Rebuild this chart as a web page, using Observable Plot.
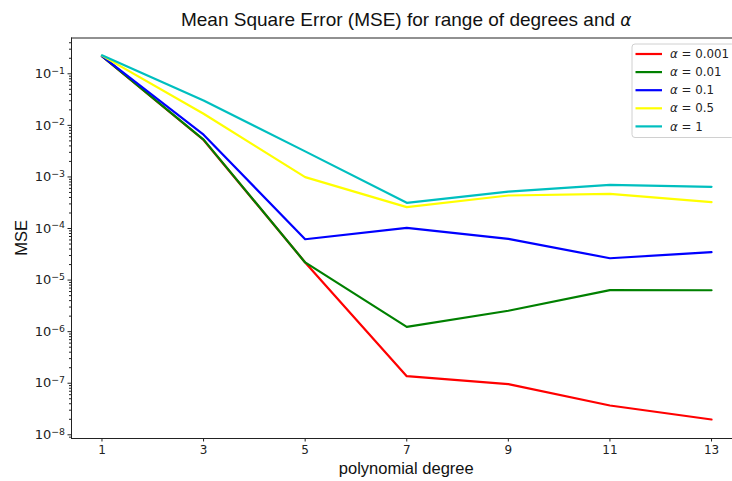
<!DOCTYPE html>
<html>
<head>
<meta charset="utf-8">
<script src="https://cdn.jsdelivr.net/npm/d3@7"></script>
<script src="https://cdn.jsdelivr.net/npm/@observablehq/plot@0.6"></script>
<style>
  html, body { margin: 0; padding: 0; background: #fff; }
  #chart { width: 732px; height: 481px; overflow: hidden; }
</style>
</head>
<body>
<div id="chart"></div>
<script>
// ---- data ----
const degrees = [1, 3, 5, 7, 9, 11, 13];
const alphas = ["0.001", "0.01", "0.1", "0.5", "1"];
const colors = ["#ff0000", "#008000", "#0000ff", "#ffff00", "#00bfbf"];
const mse_a0001 = [0.22, 0.0052, 2.2e-5, 1.37e-7, 9.6e-8, 3.7e-8, 1.98e-8];
const mse_a001  = [0.22, 0.0053, 2.2e-5, 1.24e-6, 2.54e-6, 6.4e-6, 6.35e-6];
const mse_a01   = [0.22, 0.0066, 6.2e-5, 1.03e-4, 6.3e-5, 2.65e-5, 3.47e-5];
const mse_a05   = [0.225, 0.0168, 9.9e-4, 2.6e-4, 4.37e-4, 4.7e-4, 3.24e-4];
const mse_a1    = [0.228, 0.0303, 3.13e-3, 3.15e-4, 5.2e-4, 7.0e-4, 6.44e-4];
const seriesValues = [mse_a0001, mse_a001, mse_a01, mse_a05, mse_a1];
const majorExps = [-8, -7, -6, -5, -4, -3, -2, -1];
const titleText = "Mean Square Error (MSE) for range of degrees and ";
const xLabel = "polynomial degree";
const yLabel = "MSE";

// ---- table ----
const rows = [];
seriesValues.forEach((vals, i) => {
  vals.forEach((v, j) => rows.push({degree: degrees[j], mse: v, alpha: alphas[i], color: colors[i]}));
});
const majors = majorExps.map(e => Math.pow(10, e));
const yDomain = [8.48e-9, 0.4944];
const minors = [];
for (let e = -9; e <= 0; e++) for (let m = 2; m <= 9; m++) {
  const v = m * Math.pow(10, e);
  if (v >= yDomain[0] && v <= yDomain[1]) minors.push(v);
}
const xDomain = [0.4, 13.6];

const W = 732, H = 481;
const mL = 71, mT = 37.5, mB = 43;
const xRange = [mL, 741.5];
const yRange = [H - mB, mT];

const chart = Plot.plot({
  width: W, height: H,
  marginTop: mT, marginLeft: mL, marginBottom: mB, marginRight: 0,
  x: {domain: xDomain, range: xRange},
  y: {type: "log", domain: yDomain, range: yRange},
  color: {type: "identity"},
  style: {fontFamily: "DejaVu Sans, sans-serif", fontSize: "12px", background: "#fff", color: "#222"},
  marks: [
    Plot.axisX({ticks: degrees, tickSize: 3.5, tickPadding: 3, label: null, tickFormat: d => String(d), fontSize: 12}),
    Plot.axisY({ticks: majors, tickSize: 3.5, tickPadding: 3, label: null,
      tickFormat: d => "10^" + Math.round(Math.log10(d)), fontSize: 13}),
    Plot.axisY({ticks: minors, tickSize: 2, label: null, tickFormat: () => ""}),
    Plot.lineY(rows, {x: "degree", y: "mse", z: "alpha", stroke: "color", strokeWidth: 2.2}),
    Plot.ruleX([xDomain[0]], {stroke: "#222", strokeWidth: 1}),
    Plot.ruleY([yDomain[0]], {stroke: "#222", strokeWidth: 1}),
    Plot.ruleY([yDomain[1]], {stroke: "#222", strokeWidth: 1})
  ]
});
document.getElementById("chart").appendChild(chart);

const svg = d3.select(chart);

// superscript exponents on y tick labels
svg.selectAll("text").each(function() {
  const t = d3.select(this);
  const s = t.text();
  if (s.startsWith("10^")) {
    const exp = s.slice(3).replace("-", "\u2212");
    t.text(null);
    t.append("tspan").text("10");
    t.append("tspan").attr("dy", "-0.45em").attr("font-size", "0.72em").text(exp);
  }
});

const cx = (xRange[0] + xRange[1]) / 2;
const cy = (yRange[0] + yRange[1]) / 2;

// title
const title = svg.append("text")
  .attr("x", cx).attr("y", 26)
  .attr("text-anchor", "middle")
  .attr("font-family", "Liberation Sans, Arial, sans-serif")
  .attr("font-size", 19).attr("fill", "#111");
title.append("tspan").text(titleText);
title.append("tspan").attr("font-style", "italic").attr("font-family", "DejaVu Sans, sans-serif").attr("font-size", 17).text("\u03b1");

// axis labels
svg.append("text")
  .attr("x", cx).attr("y", 474)
  .attr("text-anchor", "middle")
  .attr("font-family", "Liberation Sans, Arial, sans-serif")
  .attr("font-size", 16.5).attr("fill", "#111")
  .text(xLabel);
svg.append("text")
  .attr("transform", `translate(27,${cy}) rotate(-90)`)
  .attr("text-anchor", "middle")
  .attr("font-family", "Liberation Sans, Arial, sans-serif")
  .attr("font-size", 16.5).attr("fill", "#111")
  .text(yLabel);

// legend
const legRight = xRange[1] - 7, legTop = mT + 6.5;
const legLeft = 632, rowH = 18.1;
const lg = svg.append("g").attr("text-anchor", "start");
lg.append("rect")
  .attr("x", legLeft).attr("y", legTop)
  .attr("width", legRight - legLeft).attr("height", rowH * alphas.length + 3)
  .attr("rx", 3).attr("fill", "#fff").attr("fill-opacity", 0.8)
  .attr("stroke", "#d0d0d0").attr("stroke-width", 1);
alphas.forEach((a, i) => {
  const yy = legTop + 10 + i * rowH;
  lg.append("line").attr("x1", legLeft + 3.5).attr("x2", legLeft + 30)
    .attr("y1", yy).attr("y2", yy).attr("stroke", colors[i]).attr("stroke-width", 2.2);
  const t = lg.append("text").attr("x", legLeft + 38).attr("y", yy).attr("dy", "0.35em")
    .attr("text-anchor", "start")
    .attr("font-family", "DejaVu Sans, sans-serif").attr("font-size", 11.8).attr("fill", "#222");
  t.append("tspan").attr("font-style", "italic").text("\u03b1");
  t.append("tspan").text(" = " + a);
});
</script>
</body>
</html>
